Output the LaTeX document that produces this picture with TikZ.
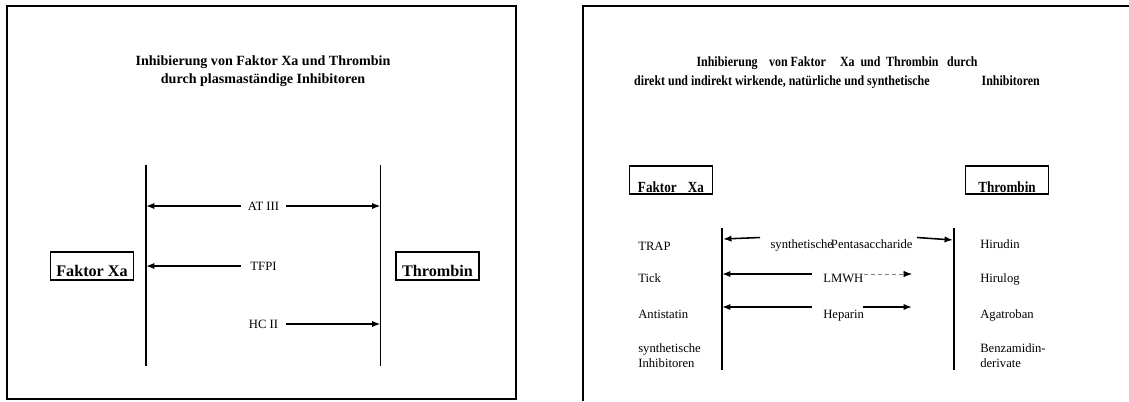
\documentclass[tikz,border=0pt]{standalone}
\usepackage{fontspec}
\setmainfont{Liberation Serif}
\newfontfamily\schmal[FakeStretch=0.85]{Liberation Serif}
\usetikzlibrary{arrows.meta}

\begin{document}
\begin{tikzpicture}[x=0.025cm, y=-0.025cm,
  rahmen/.style={line width=1.4pt},
  linie/.style={line width=1.1pt},
  pfeil/.style={line width=1.1pt, -{Latex[length=6pt,width=4.5pt]}},
  punkte/.style={line width=0.5pt, gray, densely dashed, -{Latex[length=6pt,width=4.5pt,color=black]}},
  kasten/.style={draw, line width=1.1pt, inner sep=0pt, minimum width=2.075cm},
  beschr/.style={font=\fontsize{9}{10.7}\selectfont, inner sep=0pt},
  mitte/.style={beschr, minimum width=1.125cm},
  zeile/.style={beschr, anchor=west, text height=1.5ex, text depth=.25ex},
  titel/.style={font=\bfseries\fontsize{10}{12.8}\selectfont, align=center}]
\useasboundingbox (0,0) rectangle (1129,401);

% linke Tafel
\draw[rahmen] (7,6) rectangle (516,399);
\node[titel] (titelA) at (263,71) {Inhibierung von Faktor Xa und Thrombin\\durch\ plasmaständige Inhibitoren};
\coordinate (la1) at (146,165); \coordinate (la2) at (146,366);
\coordinate (lb1) at (380.5,165); \coordinate (lb2) at (380.5,366);
\draw[linie] (la1) -- (la2);
\draw[linie] (lb1) -- (lb2);
\node[kasten, text height=0.6cm, text depth=0.1cm, font=\bfseries\fontsize{11.5}{13}\selectfont] (fxaA) at (92,266) {Faktor Xa};
\node[kasten, text height=0.6cm, text depth=0.1cm, font=\bfseries\fontsize{11.5}{13}\selectfont] (thrA) at (437.5,266) {Thrombin};
\node[mitte] (at) at (263.5,206) {AT III};
\node[mitte] (tfpi) at (263.5,266) {TFPI};
\node[mitte] (hc) at (263.5,324) {HC II};
\draw[pfeil] (at.west) -- (at.west -| la1);
\draw[pfeil] (at.east) -- (at.east -| lb1);
\draw[pfeil] (tfpi.west) -- (tfpi.west -| la1);
\draw[pfeil] (hc.east) -- (hc.east -| lb1);

% rechte Tafel
\draw[rahmen] (583,401) -- (583,6) -- (1129,6);
\node[titel, font=\schmal\bfseries\fontsize{10}{13.5}\selectfont] (titelB) at (837,72.5) {Inhibierung\hspace{6pt} von Faktor\hspace{8pt} Xa\hspace{2pt} und\hspace{2pt} Thrombin\hspace{4pt} durch\\direkt und indirekt wirkende, natürliche und synthetische\hspace{1.3cm}Inhibitoren};
\node[kasten, text height=0.65cm, text depth=0.05cm, font=\schmal\bfseries\fontsize{11}{13}\selectfont] (fxaB) at (671,180) {Faktor\hspace{8pt}Xa};
\node[kasten, text height=0.65cm, text depth=0.05cm, font=\schmal\bfseries\fontsize{11}{13}\selectfont] (thrB) at (1007,180) {Thrombin};
\coordinate (ra1) at (722,228); \coordinate (ra2) at (722,370);
\coordinate (rb1) at (954,228); \coordinate (rb2) at (954,370);
\draw[linie] (ra1) -- (ra2);
\draw[linie] (rb1) -- (rb2);
\node[zeile] (trap) at (638,246) {TRAP};
\node[zeile] (tick) at (638,278) {Tick};
\node[zeile] (anti) at (638,314) {Antistatin};
\node[beschr, anchor=west, align=left] (synth) at (638,356) {synthetische\\Inhibitoren};
\node[zeile] (hiru) at (980,244) {Hirudin};
\node[zeile] (hlog) at (980,278) {Hirulog};
\node[zeile] (agat) at (980,314) {Agatroban};
\node[beschr, anchor=west, align=left] (benz) at (980,356) {Benzamidin-\\derivate};
\node[zeile, anchor=center] (penta) at (841.5,244) {synthetische\kern-1.5pt Pentasaccharide};
\node[zeile] (lmwh) at (823,278) {LMWH};
\node[zeile] (hep) at (823,314) {Heparin};
\coordinate (p1) at (760,237.5); \coordinate (p1l) at (723,239);
\coordinate (p2) at (917,237.5); \coordinate (p2r) at (953,240);
\draw[pfeil] (p1) -- (p1l);
\draw[pfeil] (p2) -- (p2r);
\coordinate (l2) at (812,274); \coordinate (d2r) at (912,274);
\draw[pfeil] (l2) -- (l2 -| ra1);
\draw[punkte] (lmwh.east |- l2) -- (d2r);
\coordinate (l3) at (812,307); \coordinate (h3) at (863,307); \coordinate (h3r) at (912,307);
\draw[pfeil] (l3) -- (l3 -| ra1);
\draw[pfeil] (h3) -- (h3r);
\end{tikzpicture}
\end{document}
